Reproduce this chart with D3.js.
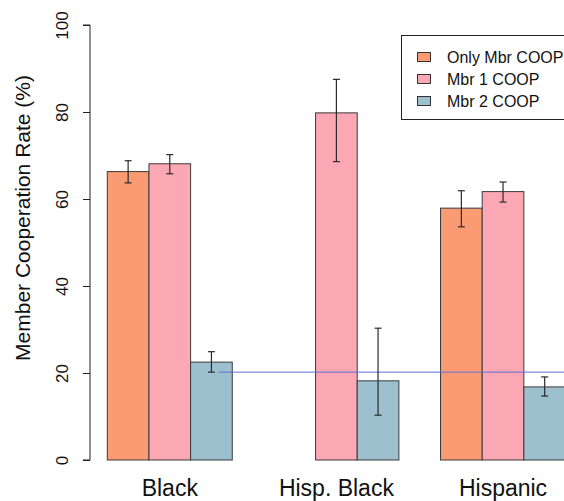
<!DOCTYPE html>
<html>
<head>
<meta charset="utf-8">
<script src="https://cdn.jsdelivr.net/npm/d3@7"></script>
<style>
  html, body { margin: 0; padding: 0; background: #fff; }
  svg { display: block; font-family: "Liberation Sans", Arial, sans-serif; }
</style>
</head>
<body>
<svg id="chart" width="564" height="501"></svg>
<script>
// ---- data ----
const categories = ["Black", "Hisp. Black", "Hispanic"];
const seriesNames = ["Only Mbr COOP", "Mbr 1 COOP", "Mbr 2 COOP"];
const onlyMbr = [66.3, null, 57.9];
const mbr1 = [68.1, 79.8, 61.7];
const mbr2 = [22.5, 18.2, 16.8];
const onlyMbrLow = [63.7, null, 53.6];
const onlyMbrHigh = [68.8, null, 61.9];
const mbr1Low = [65.8, 68.6, 59.3];
const mbr1High = [70.2, 87.5, 63.9];
const mbr2Low = [20.2, 10.3, 14.7];
const mbr2High = [24.9, 30.3, 19.1];
const yTicks = [0, 20, 40, 60, 80, 100];
const refValue = 20.2;
const colors = ["#FB9B74", "#FBA7B4", "#9CC0CE"];

const values = [onlyMbr, mbr1, mbr2];
const lows = [onlyMbrLow, mbr1Low, mbr2Low];
const highs = [onlyMbrHigh, mbr1High, mbr2High];

const svg = d3.select("#chart");

const y = d3.scaleLinear().domain([0, 100]).range([460, 25]);
const x0 = d3.scaleBand().domain(categories).range([107.3, 565.5]).paddingInner(0.25).paddingOuter(0);
const x1 = d3.scaleBand().domain(d3.range(seriesNames.length)).range([0, x0.bandwidth()]).padding(0);

// bars
const rows = [];
categories.forEach((c, ci) => {
  seriesNames.forEach((s, si) => {
    if (values[si][ci] !== null) {
      rows.push({c, si, v: values[si][ci], lo: lows[si][ci], hi: highs[si][ci]});
    }
  });
});

svg.append("g").selectAll("rect").data(rows).join("rect")
  .attr("x", d => x0(d.c) + x1(d.si))
  .attr("y", d => y(d.v))
  .attr("width", x1.bandwidth())
  .attr("height", d => y(0) - y(d.v))
  .attr("fill", d => colors[d.si])
  .attr("stroke", "#3a3a3a")
  .attr("stroke-width", 1);

// reference line
const refStart = x0("Black") + x1(2) + x1.bandwidth() / 2 + 7;
svg.append("line")
  .attr("x1", refStart).attr("x2", 564)
  .attr("y1", y(refValue)).attr("y2", y(refValue))
  .attr("stroke", "#5B6FD8").attr("stroke-width", 1);

// error bars
const eb = svg.append("g").attr("stroke", "#2a2a2a").attr("stroke-width", 1.2);
rows.forEach(d => {
  const cx = x0(d.c) + x1(d.si) + x1.bandwidth() / 2;
  eb.append("line").attr("x1", cx).attr("x2", cx).attr("y1", y(d.lo)).attr("y2", y(d.hi));
  eb.append("line").attr("x1", cx - 3.5).attr("x2", cx + 3.5).attr("y1", y(d.lo)).attr("y2", y(d.lo));
  eb.append("line").attr("x1", cx - 3.5).attr("x2", cx + 3.5).attr("y1", y(d.hi)).attr("y2", y(d.hi));
});

// y axis
const axis = d3.axisLeft(y).tickValues(yTicks).tickSize(7).tickPadding(0).tickFormat(d3.format("d"));
const ga = svg.append("g").attr("transform", "translate(90,0)").call(axis);
ga.select(".domain").attr("stroke", "#222").attr("d", `M-7,${y(100)}H0V${y(0)}H-7`);
ga.selectAll(".tick line").attr("stroke", "#222");
ga.selectAll(".tick text")
  .attr("font-size", 17)
  .attr("fill", "#111")
  .attr("transform", "rotate(-90)")
  .attr("x", 0).attr("y", -22)
  .attr("dy", 0)
  .attr("text-anchor", "middle");

// y axis title
svg.append("text")
  .attr("transform", "translate(30,218) rotate(-90)")
  .attr("text-anchor", "middle")
  .attr("font-size", 21)
  .attr("fill", "#111")
  .text("Member Cooperation Rate (%)");

// category labels
svg.append("g").selectAll("text").data(categories).join("text")
  .attr("x", d => x0(d) + x0.bandwidth() / 2)
  .attr("y", 496)
  .attr("text-anchor", "middle")
  .attr("font-size", 23)
  .attr("fill", "#111")
  .text(d => d);

// legend
const lg = svg.append("g");
lg.append("rect").attr("x", 401.5).attr("y", 35.5).attr("width", 175).attr("height", 84)
  .attr("fill", "#fff").attr("stroke", "#222").attr("stroke-width", 1);
seriesNames.forEach((s, i) => {
  const cy = 57 + i * 22;
  lg.append("rect").attr("x", 417.5).attr("y", cy - 4.5).attr("width", 13).attr("height", 9)
    .attr("fill", colors[i]).attr("stroke", "#333");
  lg.append("text").attr("x", 447).attr("y", cy + 6)
    .attr("font-size", 16).attr("fill", "#111").text(s);
});
</script>
</body>
</html>
